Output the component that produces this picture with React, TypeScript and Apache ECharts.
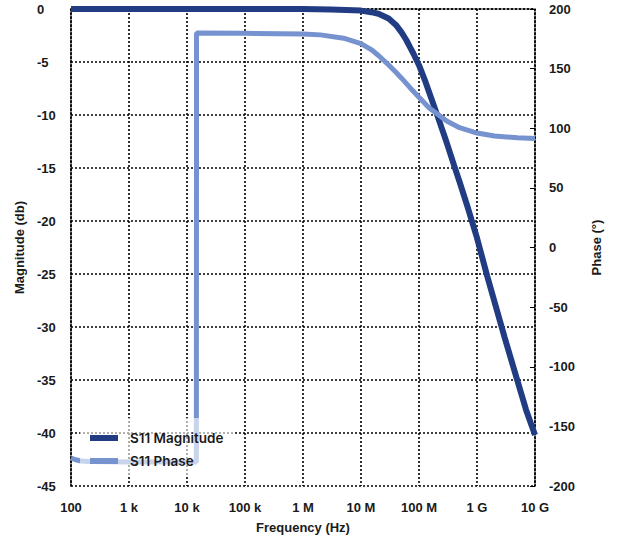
import React, { useEffect, useRef } from "react";
import * as echarts from "echarts";

const xTickValues = [1e2, 1e3, 1e4, 1e5, 1e6, 1e7, 1e8, 1e9, 1e10];
const xTickLabels = ["100", "1 k", "10 k", "100 k", "1 M", "10 M", "100 M", "1 G", "10 G"];

const magFreq = [1e2, 1e6, 3e6, 1e7, 1.5e7, 2e7, 3e7, 4e7, 5e7, 6e7, 7e7, 8e7, 1e8, 1.3e8, 1.6e8, 2e8, 3e8, 4e8, 5e8, 7e8, 1e9, 1.5e9, 2e9, 3e9, 5e9, 7e9, 1e10];
const magDb = [0, 0, -0.05, -0.15, -0.3, -0.45, -0.9, -1.5, -2.2, -2.9, -3.6, -4.2, -5.3, -6.9, -8.3, -9.8, -12.6, -14.7, -16.3, -18.8, -21.6, -25.2, -27.6, -31.0, -35.1, -37.8, -40.2];

const phaseFreq = [100, 120, 150, 200, 1000, 14500, 14600, 1e5, 1e6, 2e6, 5e6, 1e7, 1.5e7, 2e7, 3e7, 4e7, 5e7, 7e7, 1e8, 1.5e8, 2e8, 3e8, 5e8, 1e9, 2e9, 5e9, 1e10];
const phaseDeg = [-176.5, -178, -179, -179.5, -179.8, -179.9, 179.9, 179.6, 179, 178.3, 175.5, 171, 166, 161, 153, 147, 142, 134, 126, 117, 112.5, 106, 100.5, 96, 93.5, 92, 91.5];

const seriesNames = ["S11 Magnitude", "S11 Phase"];

export default function App() {
  const ref = useRef<HTMLDivElement>(null);
  useEffect(() => {
    if (!ref.current) return;
    const chart = echarts.init(ref.current, null, { renderer: "svg" });
    const dotted = { color: "#000", width: 1.6, type: [2, 2] as any };
    const labelFont = {
      fontFamily: "Liberation Sans, Arial, sans-serif",
      fontWeight: "bold" as const,
      fontSize: 13,
      color: "#1a1a1a",
    };
    chart.setOption({
      animation: false,
      backgroundColor: "#fff",
      grid: { left: 71, right: 83, top: 9, bottom: 53, containLabel: false, outerBoundsMode: "none" },
      legend: {
        orient: "vertical",
        left: 80,
        top: 418,
        padding: [13, 10, 8, 10],
        itemGap: 9,
        itemWidth: 28,
        itemHeight: 6,
        icon: "rect",
        backgroundColor: "rgba(255,255,255,0.6)",
        textStyle: {
          fontFamily: "Inter, sans-serif",
          fontWeight: 600,
          fontSize: 13.5,
          color: "#1a1a1a",
          lineHeight: 14,
          padding: [0, 0, 0, 7],
        },
        data: seriesNames,
      },
      xAxis: {
        type: "log",
        logBase: 10,
        min: 1e2,
        max: 1e10,
        name: "Frequency (Hz)",
        nameLocation: "middle",
        nameGap: 35,
        nameTextStyle: labelFont,
        axisLine: { show: true, lineStyle: dotted },
        axisTick: { show: false },
        splitLine: { show: true, lineStyle: dotted },
        axisLabel: {
          ...labelFont,
          margin: 15,
          formatter: (v: number) => {
            const i = xTickValues.findIndex((t) => Math.abs(Math.log10(t) - Math.log10(v)) < 1e-6);
            return i >= 0 ? xTickLabels[i] : "";
          },
        },
      },
      yAxis: [
        {
          type: "value",
          min: -45,
          max: 0,
          interval: 5,
          name: "Magnitude (db)",
          nameLocation: "middle",
          nameGap: 44,
          nameTextStyle: labelFont,
          axisLine: { show: true, lineStyle: dotted },
          axisTick: { show: false },
          splitLine: { show: true, lineStyle: dotted },
          axisLabel: { ...labelFont, align: "left", margin: 34 },
        },
        {
          type: "value",
          position: "right",
          min: -200,
          max: 200,
          interval: 50,
          name: "Phase (°)",
          nameLocation: "middle",
          nameGap: 55,
          nameTextStyle: labelFont,
          axisLine: { show: true, lineStyle: dotted },
          axisTick: { show: true, inside: true, length: 5, lineStyle: { color: "#000", width: 1 } },
          splitLine: { show: false },
          axisLabel: { ...labelFont, align: "left", margin: 14 },
        },
      ],
      series: [
        {
          name: seriesNames[0],
          type: "line",
          yAxisIndex: 0,
          showSymbol: false,
          symbol: "none",
          color: "#213c82",
          lineStyle: { color: "#213c82", width: 6 },
          data: magFreq.map((f, i) => [f, magDb[i]]),
          z: 2,
        },
        {
          name: seriesNames[1],
          type: "line",
          yAxisIndex: 1,
          showSymbol: false,
          symbol: "none",
          color: "#7692cf",
          lineStyle: { color: "#7692cf", width: 5 },
          data: phaseFreq.map((f, i) => [f, phaseDeg[i]]),
          z: 3,
        },
      ],
    });
    return () => chart.dispose();
  }, []);
  return (
    <div
      ref={ref}
      style={{ position: "fixed", left: 0, top: 0, width: 618, height: 539 }}
    />
  );
}
